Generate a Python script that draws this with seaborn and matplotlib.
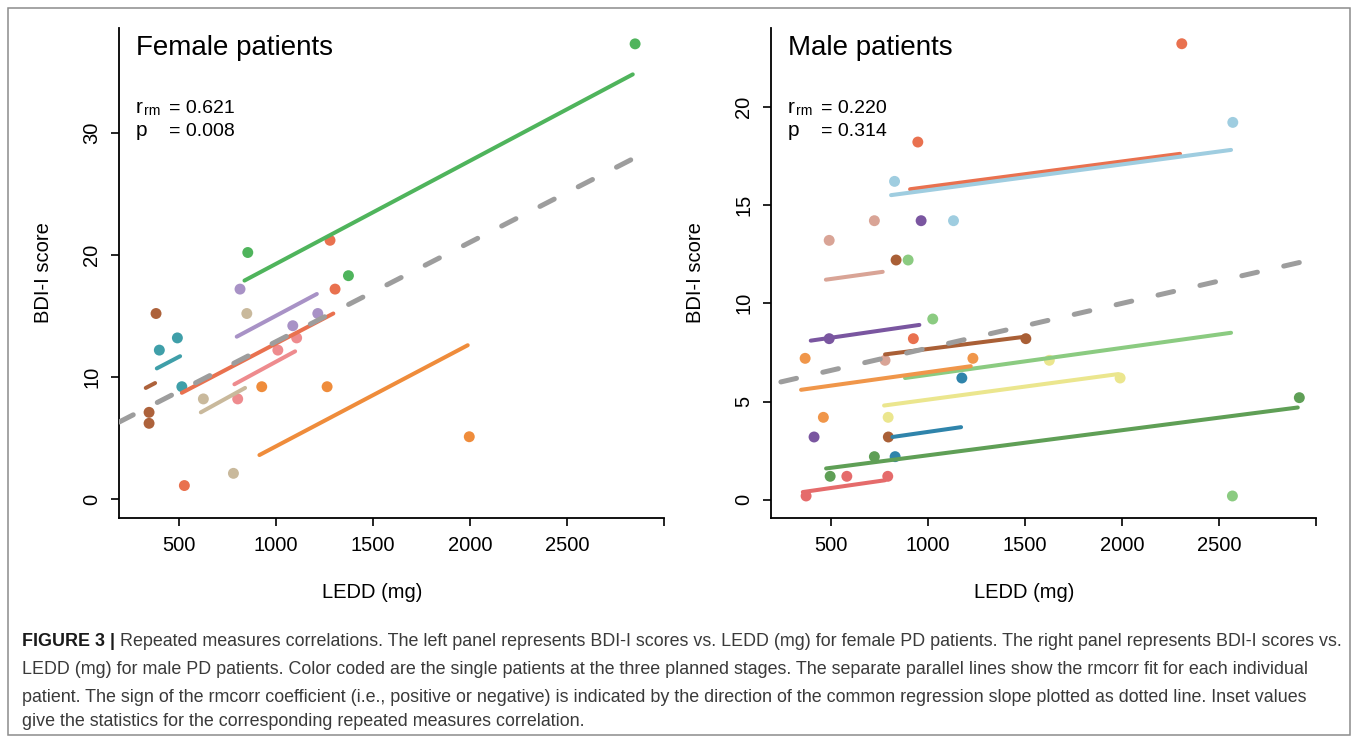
import matplotlib
matplotlib.use("Agg")
import matplotlib.pyplot as plt
from matplotlib.patches import Rectangle
import pandas as pd
import seaborn as sns

# ---- female panel: BDI-I vs LEDD, three visits per patient ----
female_patients = ["F1", "F2", "F3", "F4", "F5", "F6", "F7", "F8"]
female_colors = ["#4fb45c", "#ef8c3b", "#e9714f", "#a892c6",
                 "#c9b99c", "#ee8b8e", "#3f9fa9", "#ad623b"]
female_pt_id = ["F1", "F1", "F1", "F2", "F2", "F2", "F3", "F3", "F3",
                "F4", "F4", "F4", "F5", "F5", "F5", "F6", "F6", "F6",
                "F7", "F7", "F7", "F8", "F8", "F8"]
female_ledd = [854, 1373, 2851, 926, 1263, 1996, 527, 1278, 1304,
               814, 1086, 1215, 625, 780, 849, 802, 1009, 1106,
               398, 491, 514, 345, 345, 381]
female_bdi = [20.2, 18.3, 37.3, 9.2, 9.2, 5.1, 1.1, 21.2, 17.2,
              17.2, 14.2, 15.2, 8.2, 2.1, 15.2, 8.2, 12.2, 13.2,
              12.2, 13.2, 9.2, 7.1, 6.2, 15.2]
# rmcorr fit per patient (start / end)
female_fit_x0 = [837, 914, 514, 797, 612, 785, 385, 328]
female_fit_x1 = [2839, 1988, 1295, 1210, 840, 1098, 505, 376]
female_fit_y0 = [17.9, 3.6, 8.7, 13.3, 7.1, 9.4, 10.7, 9.1]
female_fit_y1 = [34.8, 12.6, 15.2, 16.8, 9.1, 12.1, 11.7, 9.5]
female_common_x = [190, 2842]
female_common_y = [6.3, 27.9]

# ---- male panel ----
male_patients = ["M1", "M2", "M3", "M4", "M5", "M6", "M7", "M8", "M9", "M10", "M11"]
male_colors = ["#e9714f", "#9fcde0", "#d9a496", "#7a56a0", "#a95f36", "#8bcb81",
               "#f0964a", "#2f84ab", "#ebe68e", "#5f9f56", "#e56b6b"]
male_pt_id = ["M1", "M1", "M1", "M2", "M2", "M2", "M3", "M3", "M3",
              "M4", "M4", "M4", "M5", "M5", "M5", "M6", "M6", "M6",
              "M7", "M7", "M7", "M8", "M8", "M9", "M9", "M9",
              "M10", "M10", "M10", "M11", "M11", "M11"]
male_ledd = [924, 947, 2308, 827, 1131, 2571, 490, 723, 778,
             412, 490, 964, 795, 835, 1504, 897, 1024, 2569,
             366, 460, 1231, 830, 1174, 794, 1625, 1990,
             495, 723, 2914, 371, 581, 792]
male_bdi = [8.2, 18.2, 23.2, 16.2, 14.2, 19.2, 13.2, 14.2, 7.1,
            3.2, 8.2, 14.2, 3.2, 12.2, 8.2, 12.2, 9.2, 0.2,
            7.2, 4.2, 7.2, 2.2, 6.2, 4.2, 7.1, 6.2,
            1.2, 2.2, 5.2, 0.2, 1.2, 1.2]
male_fit_x0 = [907, 809, 473, 395, 778, 881, 345, 816, 773, 474, 354]
male_fit_x1 = [2299, 2562, 766, 955, 1500, 2562, 1220, 1170, 1981, 2906, 778]
male_fit_y0 = [15.8, 15.5, 11.2, 8.1, 7.4, 6.2, 5.6, 3.2, 4.8, 1.6, 0.4]
male_fit_y1 = [17.6, 17.8, 11.6, 8.9, 8.3, 8.5, 6.8, 3.7, 6.4, 4.7, 1.0]
male_common_x = [241, 2926]
male_common_y = [6.0, 12.1]

x_ticks = [500, 1000, 1500, 2000, 2500, 3000]
x_tick_labels = ["500", "1000", "1500", "2000", "2500", ""]

caption_lines = [
    "LEDD (mg) for male PD patients. Color coded are the single patients at the three planned stages. "
    "The separate parallel lines show the rmcorr fit for each individual",
    "patient. The sign of the rmcorr coefficient (i.e., positive or negative) is indicated by the "
    "direction of the common regression slope plotted as dotted line. Inset values",
    "give the statistics for the corresponding repeated measures correlation.",
]
caption_bold = "FIGURE 3 |"
caption_first = (" Repeated measures correlations. The left panel represents BDI-I scores vs. "
                 "LEDD (mg) for female PD patients. The right panel represents BDI-I scores vs.")

sns.set_style("ticks")
plt.rcParams["font.family"] = ["Liberation Sans", "DejaVu Sans"]
plt.rcParams["text.color"] = "black"
plt.rcParams["axes.labelcolor"] = "black"
plt.rcParams["xtick.color"] = "black"
plt.rcParams["ytick.color"] = "black"

W, H = 1358, 742
fig = plt.figure(figsize=(W / 100, H / 100), dpi=100)


def panel(left_px, title, r_txt, p_txt, ylim, yticks, pts, fits, common, palette):
    ax = fig.add_axes([left_px / W, 1 - 518 / H, 545 / W, 490 / H])
    sns.scatterplot(data=pts, x="ledd", y="bdi", hue="patient", palette=palette,
                    s=62, edgecolor="none", linewidth=0, legend=False, ax=ax, zorder=2)
    sns.lineplot(data=fits, x="ledd", y="bdi", hue="patient", palette=palette,
                 estimator=None, linewidth=2.9, solid_capstyle="round",
                 legend=False, ax=ax, zorder=3)
    sns.lineplot(x=common[0], y=common[1], color="#9d9d9d", linewidth=3.6,
                 estimator=None, ax=ax, zorder=4)
    ax.lines[-1].set_dashes((3.2, 5.4))
    ax.lines[-1].set_dash_capstyle("round")

    ax.set_xlim(190, 3000)
    ax.set_ylim(*ylim)
    ax.set_xticks(x_ticks)
    ax.set_xticklabels(x_tick_labels)
    ax.set_yticks(yticks)
    ax.set_yticklabels([str(v) for v in yticks], rotation=90, va="center")
    ax.tick_params(direction="out", length=5.8, width=1.2, labelsize=14.5, pad=7,
                   color="black", labelcolor="black")
    for side in ["top", "right"]:
        ax.spines[side].set_visible(False)
    for side in ["left", "bottom"]:
        ax.spines[side].set_linewidth(1.3)
        ax.spines[side].set_color("black")

    ax.set_xlabel("LEDD (mg)", fontsize=14.5, color="black")
    ax.set_ylabel("BDI-I score", fontsize=14.5, color="black")
    ax.xaxis.set_label_coords(0.465, -0.133)
    ax.yaxis.set_label_coords(-0.122, 0.5)

    ax.text(0.031, 0.945, title, transform=ax.transAxes, fontsize=20, va="baseline")
    ax.text(0.031, 0.8265, "r", transform=ax.transAxes, fontsize=15, va="baseline")
    ax.text(0.046, 0.822, "rm", transform=ax.transAxes, fontsize=10, va="baseline")
    ax.text(0.092, 0.8265, "= " + r_txt, transform=ax.transAxes, fontsize=14, va="baseline")
    ax.text(0.031, 0.7796, "p", transform=ax.transAxes, fontsize=15, va="baseline")
    ax.text(0.092, 0.7796, "= " + p_txt, transform=ax.transAxes, fontsize=14, va="baseline")
    return ax


fem_pts = pd.DataFrame({"patient": female_pt_id, "ledd": female_ledd, "bdi": female_bdi})
fem_fits = pd.DataFrame({"patient": female_patients * 2,
                         "ledd": female_fit_x0 + female_fit_x1,
                         "bdi": female_fit_y0 + female_fit_y1})
male_pts = pd.DataFrame({"patient": male_pt_id, "ledd": male_ledd, "bdi": male_bdi})
male_fits = pd.DataFrame({"patient": male_patients * 2,
                          "ledd": male_fit_x0 + male_fit_x1,
                          "bdi": male_fit_y0 + male_fit_y1})

panel(119, "Female patients", "0.621", "0.008", (-1.56, 38.6), [0, 10, 20, 30],
      fem_pts, fem_fits, (female_common_x, female_common_y),
      dict(zip(female_patients, female_colors)))
panel(771, "Male patients", "0.220", "0.314", (-0.92, 24.0), [0, 5, 10, 15, 20],
      male_pts, male_fits, (male_common_x, male_common_y),
      dict(zip(male_patients, male_colors)))

# frame around the whole figure
fig.add_artist(Rectangle((8 / W, 1 - 735 / H), 1342 / W, 727 / H, transform=fig.transFigure,
                         fill=False, edgecolor="#8c8c8c", linewidth=1.1))

# caption: fit first line to its width in the reference
renderer = fig.canvas.get_renderer()
trial = 12.0
tb = fig.text(0, 0, caption_bold, fontsize=trial, fontweight="bold")
tr = fig.text(0, 0, caption_first, fontsize=trial)
wsum = tb.get_window_extent(renderer).width + tr.get_window_extent(renderer).width
tb.remove()
tr.remove()
cap_fs = trial * 1321 / wsum

line_y = [641, 669, 697, 722]
b = fig.text(22 / W, 1 - line_y[0] / H, caption_bold, fontsize=cap_fs, fontweight="bold",
             va="center", color="#1a1a1a")
bx = b.get_window_extent(renderer).x1
fig.text(bx / W, 1 - line_y[0] / H, caption_first, fontsize=cap_fs, va="center", color="#3a3a3a")
for yy, line in zip(line_y[1:], caption_lines):
    fig.text(22 / W, 1 - yy / H, line, fontsize=cap_fs, va="center", color="#3a3a3a")

fig.savefig("out.png", dpi=100)
